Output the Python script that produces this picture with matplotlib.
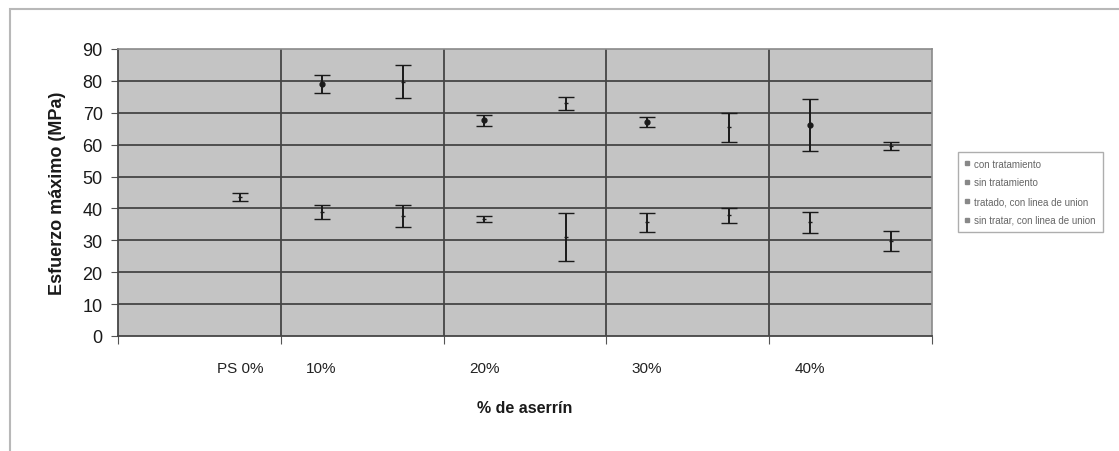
import matplotlib.pyplot as plt
from matplotlib.patches import Rectangle
from matplotlib.lines import Line2D

plt.rcParams['font.family'] = ['Liberation Sans', 'DejaVu Sans']

# categories (10 slots, as in the original spreadsheet chart)
n_cats = 10
tick_pos = [1, 2, 4, 6, 8]
tick_labels = ['PS 0%', '10%', '20%', '30%', '40%']

# con tratamiento
con_x = [2, 4, 6, 8]
con_y = [79.1, 67.6, 67.0, 66.2]
con_err = [2.8, 1.6, 1.6, 8.1]

# sin tratamiento (includes PS 0%)
sin_x = [1, 2, 4, 6, 8]
sin_y = [43.7, 39.0, 36.6, 35.6, 35.6]
sin_err = [1.3, 2.2, 1.0, 2.9, 3.3]

# tratado, con linea de union
tlu_x = [3, 5, 7, 9]
tlu_y = [79.8, 73.0, 65.4, 59.6]
tlu_err = [5.3, 2.1, 4.5, 1.2]

# sin tratar, con linea de union
slu_x = [3, 5, 7, 9]
slu_y = [37.6, 31.0, 37.8, 29.8]
slu_err = [3.5, 7.6, 2.4, 3.2]

fig = plt.figure(figsize=(11.19, 4.52), dpi=100)
ax = fig.add_axes([118 / 1119, 1 - 337 / 452, (932 - 118) / 1119, (337 - 50) / 452])

# outer chart frame
fig.patches.append(Rectangle((10 / 1119, -0.1), 1.2, 1 - 10 / 452 + 0.1,
                             transform=fig.transFigure, fill=False,
                             edgecolor='#b8b8b8', lw=1.5))

ax.set_facecolor('#c4c4c4')

series = [
    (con_x, con_y, con_err, 'con tratamiento', 'o'),
    (sin_x, sin_y, sin_err, 'sin tratamiento', '_'),
    (tlu_x, tlu_y, tlu_err, 'tratado, con linea de union', '_'),
    (slu_x, slu_y, slu_err, 'sin tratar, con linea de union', '_'),
]
handles = []
for x, y, e, lab, m in series:
    ax.errorbar(x, y, yerr=e, fmt=m, color='#1a1a1a', ms=3.5, mew=1,
                ecolor='#1a1a1a', elinewidth=1.4, capsize=6, capthick=2,
                zorder=3)
    handles.append(Line2D([], [], ls='none', marker='s', ms=2.5,
                          color='#888888', label=lab))

ax.set_xlim(-0.5, n_cats - 0.5)
ax.set_ylim(0, 90)
ax.set_yticks(range(0, 91, 10))
ax.set_xticks([-0.5, 1.5, 3.5, 5.5, 7.5, 9.5])
ax.set_xticklabels([])
ax.set_xticks(tick_pos, minor=True)
ax.set_xticklabels(tick_labels, minor=True)
ax.tick_params(axis='x', which='minor', length=0, pad=18, labelsize=11,
               labelcolor='#222222')
ax.tick_params(axis='x', which='major', length=6, color='#555555')
ax.tick_params(axis='y', length=5, color='#555555', labelsize=13, pad=6,
               labelcolor='#1a1a1a')

for v in range(10, 90, 10):
    ax.axhline(v, color='#454545', lw=1.3, zorder=1)
for v in [1.5, 3.5, 5.5, 7.5]:
    ax.axvline(v, color='#454545', lw=1.3, zorder=1)

for s in ['left', 'bottom']:
    ax.spines[s].set_color('#454545')
    ax.spines[s].set_linewidth(1.3)
for s in ['top', 'right']:
    ax.spines[s].set_color('#8a8a8a')
    ax.spines[s].set_linewidth(1.2)

ax.set_ylabel('Esfuerzo máximo (MPa)', fontsize=13, fontweight='bold',
              color='#1a1a1a', labelpad=12)
ax.set_xlabel('% de aserrín', fontsize=11.5, fontweight='bold',
              color='#1a1a1a', labelpad=18)

ax.legend(handles=handles, loc='upper left',
          bbox_to_anchor=(953 / 1119, 1 - 148 / 452),
          bbox_transform=fig.transFigure, fontsize=7, frameon=True,
          fancybox=False, edgecolor='#9a9a9a', handlelength=0.5,
          handletextpad=0.5, borderpad=0.7, labelspacing=0.9,
          labelcolor='#666666')

fig.savefig('out.png', dpi=100)
